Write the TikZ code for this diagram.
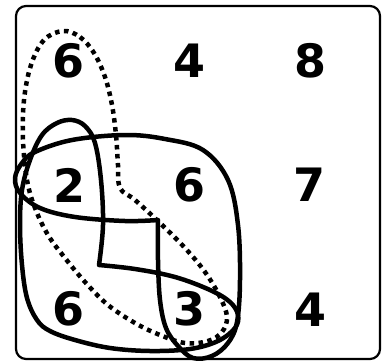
\documentclass[tikz,border=0pt]{standalone}
\usepackage{fontspec}
\setmainfont{DejaVu Sans}
\usepackage{tikz}

\begin{document}
\begin{tikzpicture}[x=1pt,y=-1pt]
      \tikzset{cell/.style={font=\fontsize{46}{46}\selectfont\bfseries,inner sep=0pt},
               loop/.style={line width=4.5pt,line join=round},
               dotloop/.style={line width=4.5pt,dash pattern=on 4.5pt off 4.5pt}}
      \useasboundingbox (0,0) rectangle (383,362);

      \draw[line width=2.2pt,rounded corners=10pt] (16,6) rectangle (380,359);

      \node[cell](A) at (69,61) {6};
      \node[cell](B) at (190,61) {4};
      \node[cell](C) at (311,61) {8};
      \node[cell](D) at (70,185) {2};
      \node[cell](E) at (190,185) {6};
      \node[cell](F) at (310,185) {7};
      \node[cell](G) at (69,309) {6};
      \node[cell](H) at (190,309) {3};
      \node[cell](I) at (311,310) {4};

      \draw[dotloop] plot[smooth cycle,tension=0.6] coordinates {
        (63,31) (80,37) (94,53) (105,77) (112,105) (116,135) (118,165) (120,188)
        (135,200) (160,223) (185,248) (205,272) (220,297) (227,317) (222,332)
        (208,341) (185,343) (160,335) (135,323) (108,305) (85,282) (65,258)
        (48,235) (35,208) (27,180) (23,140) (24,100) (31,65) (44,40)};

      \draw[loop] plot[smooth,tension=0.6] coordinates {
        (99,265) (103,225) (101,180) (95,143) (85,126) (72,120) (57,123) (42,135)
        (30,160) (22,190) (20,225) (22,265) (27,298) (37,320) (50,331) (75,340)
        (110,348) (150,351) (190,349) (218,341) (235,328) (238,315) (230,302)
        (210,290) (175,277) (135,269) (99,265)} -- cycle;

      \draw[loop] plot[smooth,tension=0.6] coordinates {
        (158,220) (125,221) (75,217) (40,208) (20,193) (15,178) (22,163) (35,152)
        (72,140) (125,135) (165,139) (203,150) (228,180) (238,225) (240,280)
        (237,322) (228,343) (212,356) (193,358) (178,346) (166,328) (160,300)
        (158,260) (158,220)} -- cycle;
    \end{tikzpicture}
\end{document}
